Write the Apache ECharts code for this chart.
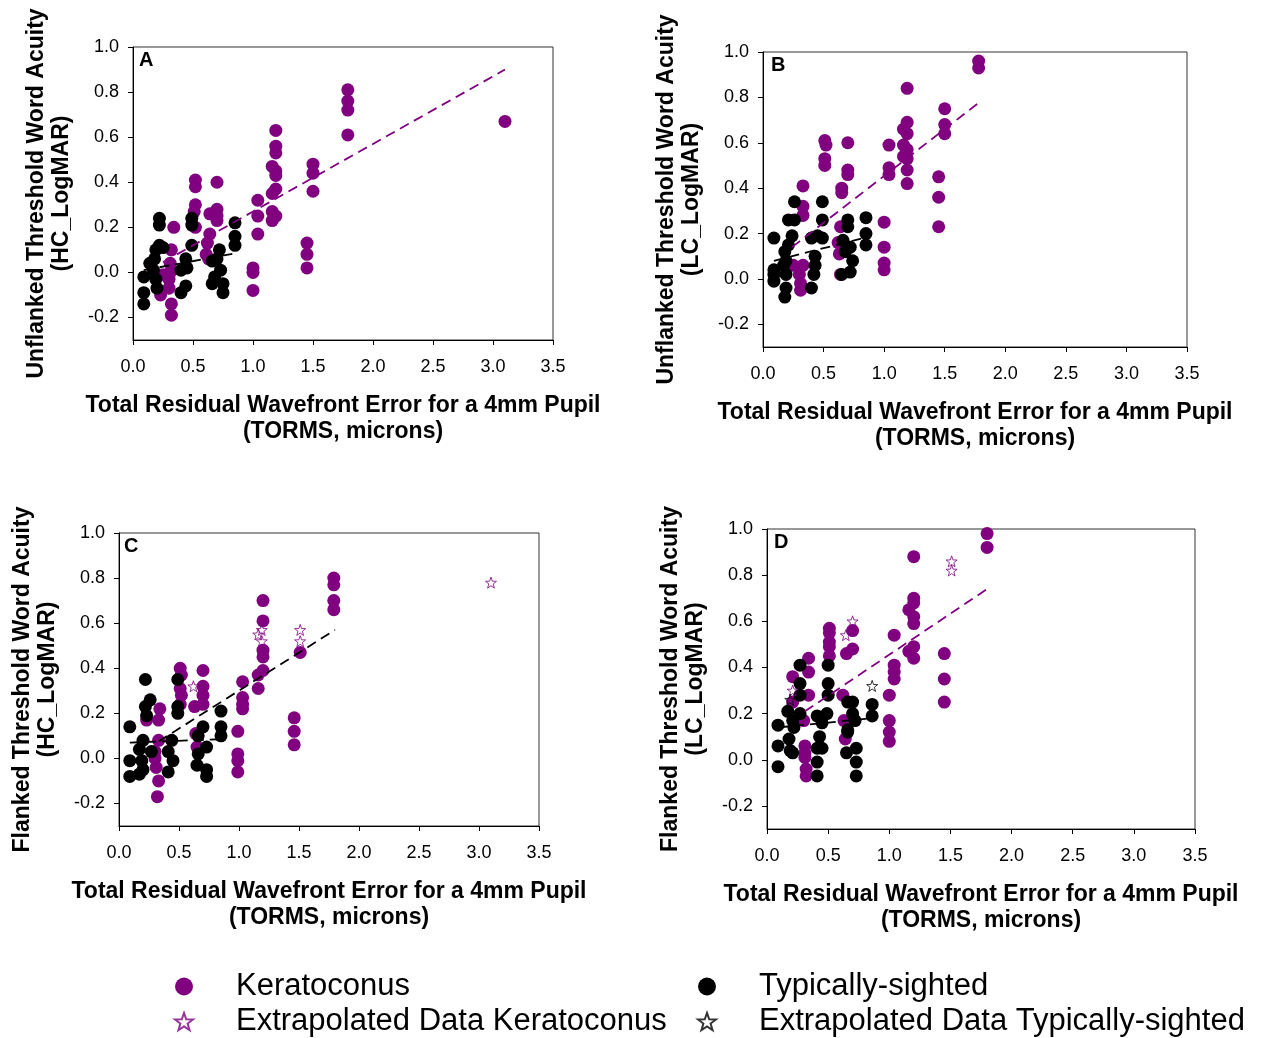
<!DOCTYPE html>
<html><head><meta charset="utf-8">
<script src="https://cdn.jsdelivr.net/npm/echarts@6/dist/echarts.min.js"></script>
<style>html,body{margin:0;padding:0;background:#fff}#c{width:1261px;height:1038px}</style>
</head><body><div id="c"></div>
<script>
// ---------- tick labels / texts ----------
const xTicks = [0, 0.5, 1.0, 1.5, 2.0, 2.5, 3.0, 3.5];
const yTicks = [-0.2, 0.0, 0.2, 0.4, 0.6, 0.8, 1.0];
const panelLetters = ['A', 'B', 'C', 'D'];
const yTitles = [
  'Unflanked Threshold Word Acuity\n(HC_LogMAR)',
  'Unflanked Threshold Word Acuity\n(LC_LogMAR)',
  'Flanked Threshold Word Acuity\n(HC_LogMAR)',
  'Flanked Threshold Word Acuity\n(LC_LogMAR)'
];
const xTitle = 'Total Residual Wavefront Error for a 4mm Pupil\n(TORMS, microns)';

// ---------- Panel A ----------
const kcA = [[1.79,0.81],[1.79,0.76],[1.79,0.72],[1.79,0.61],[3.10,0.67],
  [1.19,0.63],[1.19,0.56],[1.19,0.53],[1.16,0.47],[1.19,0.45],[1.19,0.43],[1.19,0.37],[1.16,0.35],[1.16,0.27],[1.19,0.25],[1.16,0.23],
  [1.50,0.48],[1.50,0.44],[1.50,0.36],[1.45,0.13],[1.45,0.08],[1.45,0.02],
  [1.04,0.32],[1.04,0.25],[1.04,0.17],[1.00,0.02],[1.00,0.00],[1.00,-0.08],
  [0.52,0.41],[0.52,0.38],[0.52,0.30],[0.51,0.27],[0.52,0.20],
  [0.70,0.40],[0.70,0.28],[0.70,0.25],[0.64,0.26],[0.70,0.23],
  [0.64,0.17],[0.62,0.13],[0.61,0.08],[0.63,0.06],[0.34,0.20],
  [0.32,0.10],[0.31,0.04],[0.31,0.00],[0.30,-0.03],[0.30,-0.07],[0.23,-0.10],[0.32,-0.14],[0.32,-0.19],[0.25,-0.01]];
const tsA = [[0.22,0.24],[0.22,0.21],[0.49,0.24],[0.49,0.21],[0.85,0.22],[0.85,0.16],[0.85,0.12],[0.49,0.12],
  [0.22,0.12],[0.19,0.10],[0.25,0.11],[0.18,0.06],[0.17,0.01],[0.09,-0.02],[0.09,-0.09],[0.09,-0.14],
  [0.19,-0.03],[0.20,-0.07],[0.44,0.06],[0.40,0.01],[0.44,-0.06],[0.40,-0.09],[0.45,0.02],[0.14,0.04],
  [0.72,0.10],[0.66,0.05],[0.73,0.01],[0.68,-0.02],[0.66,-0.05],[0.75,-0.05],[0.75,-0.09],[0.70,0.06]];
const kcFitA = [[0.25,0.045],[3.10,0.90]];
const tsFitA = [[0.09,0.01],[0.86,0.085]];

// ---------- Panel B ----------
const kcB = [[1.78,0.96],[1.78,0.93],[1.19,0.84],[1.50,0.75],[1.50,0.68],[1.50,0.64],
  [1.19,0.69],[1.16,0.66],[1.19,0.64],[1.16,0.59],[1.19,0.57],[1.16,0.54],[1.19,0.53],[1.19,0.48],[1.19,0.42],
  [1.04,0.59],[1.04,0.49],[1.04,0.46],[1.45,0.45],[1.45,0.36],[1.45,0.23],
  [1.00,0.25],[1.00,0.14],[1.00,0.07],[1.00,0.04],
  [0.51,0.61],[0.52,0.59],[0.51,0.53],[0.51,0.50],[0.70,0.60],[0.70,0.48],[0.70,0.46],
  [0.65,0.40],[0.65,0.38],[0.33,0.41],[0.33,0.32],[0.33,0.28],
  [0.64,0.23],[0.62,0.16],[0.63,0.11],[0.64,0.02],
  [0.25,0.06],[0.33,0.06],[0.30,0.02],[0.31,-0.02],[0.31,-0.05]];
const tsB = [[0.26,0.34],[0.49,0.34],[0.21,0.26],[0.26,0.26],[0.49,0.26],[0.70,0.26],[0.70,0.23],
  [0.85,0.27],[0.85,0.20],[0.85,0.15],[0.09,0.18],
  [0.24,0.19],[0.21,0.15],[0.18,0.12],[0.19,0.08],[0.17,0.06],
  [0.40,0.18],[0.49,0.18],[0.45,0.19],[0.43,0.10],[0.43,0.06],[0.42,0.02],
  [0.66,0.17],[0.72,0.14],[0.68,0.12],[0.74,0.08],[0.72,0.03],[0.65,0.02],
  [0.09,0.04],[0.09,-0.01],[0.09,0.02],[0.19,0.02],[0.19,-0.04],[0.18,-0.08],[0.40,-0.04]];
const kcFitB = [[0.24,0.14],[1.79,0.78]];
const tsFitB = [[0.09,0.08],[0.83,0.18]];

// ---------- Panel C ----------
const kcC = [[1.79,0.80],[1.79,0.77],[1.79,0.70],[1.79,0.66],[1.20,0.70],[1.20,0.61],
  [1.20,0.48],[1.20,0.45],[1.20,0.39],[1.16,0.37],[1.16,0.31],[1.51,0.47],
  [1.03,0.34],[1.03,0.27],[1.03,0.24],[1.03,0.22],[0.99,0.12],[0.99,0.02],[0.99,-0.01],[0.99,-0.06],
  [1.46,0.18],[1.46,0.12],[1.46,0.06],
  [0.51,0.40],[0.52,0.37],[0.51,0.31],[0.52,0.28],[0.51,0.24],
  [0.70,0.39],[0.70,0.32],[0.70,0.28],[0.63,0.23],[0.70,0.24],[0.64,0.11],[0.65,0.05],
  [0.34,0.22],[0.33,0.17],[0.23,0.17],
  [0.33,0.08],[0.30,0.03],[0.30,0.00],[0.31,-0.04],[0.33,-0.10],[0.32,-0.17]];
const kcExtC = [[0.62,0.32],[1.16,0.55],[1.19,0.57],[1.19,0.52],[1.51,0.57],[1.51,0.52],[3.10,0.78]];
const tsC = [[0.22,0.35],[0.49,0.35],[0.26,0.26],[0.22,0.23],[0.23,0.19],[0.49,0.23],[0.49,0.20],
  [0.09,0.14],[0.85,0.21],[0.85,0.14],[0.85,0.10],
  [0.70,0.14],[0.66,0.10],[0.73,0.05],[0.66,0.02],[0.65,-0.03],[0.73,-0.05],[0.73,-0.08],
  [0.20,0.08],[0.17,0.04],[0.27,0.03],[0.19,-0.01],[0.09,-0.01],[0.09,-0.08],[0.17,-0.07],[0.20,-0.05],
  [0.44,0.08],[0.41,0.03],[0.45,-0.01],[0.41,-0.06]];
const kcFitC = [[0.33,0.075],[1.80,0.57]];
const tsFitC = [[0.09,0.07],[0.84,0.085]];

// ---------- Panel D ----------
const kcD = [[1.80,0.98],[1.80,0.92],[1.20,0.88],
  [1.20,0.70],[1.20,0.68],[1.16,0.65],[1.20,0.62],[1.20,0.59],[1.20,0.49],[1.16,0.47],[1.20,0.44],
  [1.04,0.54],[1.04,0.41],[1.04,0.38],[1.04,0.35],[1.00,0.28],[1.00,0.17],[1.00,0.12],[1.00,0.08],
  [1.45,0.46],[1.45,0.35],[1.45,0.25],
  [0.51,0.57],[0.51,0.55],[0.51,0.51],[0.51,0.49],[0.51,0.45],[0.70,0.56],[0.65,0.46],[0.70,0.48],
  [0.34,0.44],[0.34,0.38],[0.34,0.28],[0.21,0.36],[0.21,0.25],[0.62,0.28],[0.63,0.17],[0.64,0.09],[0.30,0.17],
  [0.31,0.06],[0.31,0.03],[0.31,0.01],[0.32,-0.04],[0.32,-0.07]];
const kcExtD = [[0.70,0.60],[0.645,0.54],[1.51,0.86],[1.51,0.82],[0.21,0.30]];
const tsExtD = [[0.19,0.26],[0.86,0.32]];
const tsD = [[0.27,0.41],[0.50,0.41],[0.27,0.33],[0.27,0.28],[0.50,0.33],[0.50,0.28],
  [0.66,0.25],[0.70,0.25],[0.86,0.24],[0.86,0.19],
  [0.17,0.21],[0.27,0.20],[0.21,0.17],[0.09,0.15],[0.22,0.14],
  [0.41,0.19],[0.49,0.20],[0.45,0.16],[0.43,0.10],[0.70,0.20],[0.72,0.17],[0.66,0.13],[0.66,0.12],
  [0.09,0.06],[0.18,0.09],[0.19,0.04],[0.21,0.03],[0.09,-0.03],
  [0.41,0.05],[0.45,0.05],[0.41,-0.01],[0.41,-0.07],[0.65,0.03],[0.73,0.05],[0.73,-0.01],[0.73,-0.07]];
const kcFitD = [[0.31,0.21],[1.80,0.74]];
const tsFitD = [[0.09,0.14],[0.86,0.18]];

// ---------- build ----------
const PURPLE = '#800080', BLACK = '#000000';
const FONT = "'Liberation Sans', Arial, sans-serif";
const STAR = 'path://M0,-10 L2.35,-3.24 L9.51,-3.09 L3.8,1.24 L5.88,8.09 L0,4.2 L-5.88,8.09 L-3.8,1.24 L-9.51,-3.09 L-2.35,-3.24 Z';

const grids = [
  {left:133, top:47, width:420, height:293},
  {left:763, top:52, width:424, height:295},
  {left:119, top:533, width:420, height:293},
  {left:767, top:529, width:428, height:300}
];
const letterPos = [[139,50],[771,55],[124,536],[774,532]];
const panels = [
  {kc:kcA, ts:tsA, kcFit:kcFitA, tsFit:tsFitA, kcFitColor:PURPLE},
  {kc:kcB, ts:tsB, kcFit:kcFitB, tsFit:tsFitB, kcFitColor:PURPLE},
  {kc:kcC, ts:tsC, kcFit:kcFitC, tsFit:tsFitC, kcFitColor:BLACK, kcExt:kcExtC},
  {kc:kcD, ts:tsD, kcFit:kcFitD, tsFit:tsFitD, kcFitColor:PURPLE, kcExt:kcExtD, tsExt:tsExtD}
];

const xAxes = [], yAxes = [], series = [], titles = [];
grids.forEach((g, i) => {
  xAxes.push({
    gridIndex:i, type:'value', min:0, max:3.5,
    axisLine:{show:true, onZero:false, lineStyle:{color:'#000', width:1}},
    axisTick:{show:true, inside:false, length:5, customValues:xTicks, lineStyle:{color:'#000'}},
    axisLabel:{customValues:xTicks, formatter:v => v.toFixed(1), fontSize:18, color:'#000', margin:18, fontFamily:FONT},
    splitLine:{show:false},
    name:xTitle, nameLocation:'middle', nameGap:53,
    nameTextStyle:{fontSize:23, fontWeight:'bold', lineHeight:26, color:'#000', fontFamily:FONT}
  });
  yAxes.push({
    gridIndex:i, type:'value', min:-0.3, max:1.0,
    axisLine:{show:true, onZero:false, lineStyle:{color:'#000', width:1}},
    axisTick:{show:true, inside:false, length:5, customValues:yTicks, lineStyle:{color:'#000'}},
    axisLabel:{customValues:yTicks, formatter:v => v.toFixed(1), fontSize:18, color:'#000', margin:14, fontFamily:FONT},
    splitLine:{show:false},
    name:yTitles[i], nameLocation:'middle', nameGap:59,
    nameTextStyle:{fontSize:23, fontWeight:'bold', lineHeight:25, color:'#000', fontFamily:FONT}
  });
  titles.push({text:panelLetters[i], left:letterPos[i][0], top:letterPos[i][1], padding:0,
    textStyle:{fontSize:20, fontWeight:'bold', color:'#000', fontFamily:FONT}});
  const p = panels[i];
  series.push({type:'scatter', name:'Keratoconus', xAxisIndex:i, yAxisIndex:i, data:p.kc,
    symbol:'circle', symbolSize:13, itemStyle:{color:PURPLE, opacity:1}, z:2});
  series.push({type:'scatter', name:'Typically-sighted', xAxisIndex:i, yAxisIndex:i, data:p.ts,
    symbol:'circle', symbolSize:13, itemStyle:{color:BLACK, opacity:1}, z:3});
  series.push({type:'line', name:'kcfit'+i, xAxisIndex:i, yAxisIndex:i, data:p.kcFit, symbol:'none',
    lineStyle:{color:p.kcFitColor, width:1.8, type:[10,6]}, z:4, silent:true});
  series.push({type:'line', name:'tsfit'+i, xAxisIndex:i, yAxisIndex:i, data:p.tsFit, symbol:'none',
    lineStyle:{color:BLACK, width:1.8, type:[10,6]}, z:4, silent:true});
  if (p.kcExt) series.push({type:'scatter', name:'Extrapolated Data Keratoconus', xAxisIndex:i, yAxisIndex:i, data:p.kcExt,
    symbol:STAR, symbolSize:11, itemStyle:{color:'rgba(255,255,255,0)', borderColor:PURPLE, borderWidth:1}, z:5});
  if (p.tsExt) series.push({type:'scatter', name:'Extrapolated Data Typically-sighted', xAxisIndex:i, yAxisIndex:i, data:p.tsExt,
    symbol:STAR, symbolSize:11, itemStyle:{color:'rgba(255,255,255,0)', borderColor:BLACK, borderWidth:1}, z:5});
});

const legendText = {fontSize:31, lineHeight:31, color:'#000', fontFamily:FONT, padding:[0,0,0,38]};
const option = {
  animation:false,
  backgroundColor:'#fff',
  title:titles,
  grid:grids.map(g => Object.assign({show:true, borderColor:'#333', borderWidth:1, backgroundColor:'transparent'}, g)),
  xAxis:xAxes, yAxis:yAxes,
  legend:[
    {left:174, top:971, orient:'vertical', padding:0, itemGap:4, itemWidth:18, itemHeight:20, selectedMode:false,
     data:['Keratoconus','Extrapolated Data Keratoconus'], textStyle:legendText},
    {left:697, top:971, orient:'vertical', padding:0, itemGap:4, itemWidth:18, itemHeight:20, selectedMode:false,
     data:['Typically-sighted','Extrapolated Data Typically-sighted'], textStyle:legendText}
  ],
  series:series
};
const chart = echarts.init(document.getElementById('c'), null, {renderer:'canvas'});
chart.setOption(option);
</script>
</body></html>
